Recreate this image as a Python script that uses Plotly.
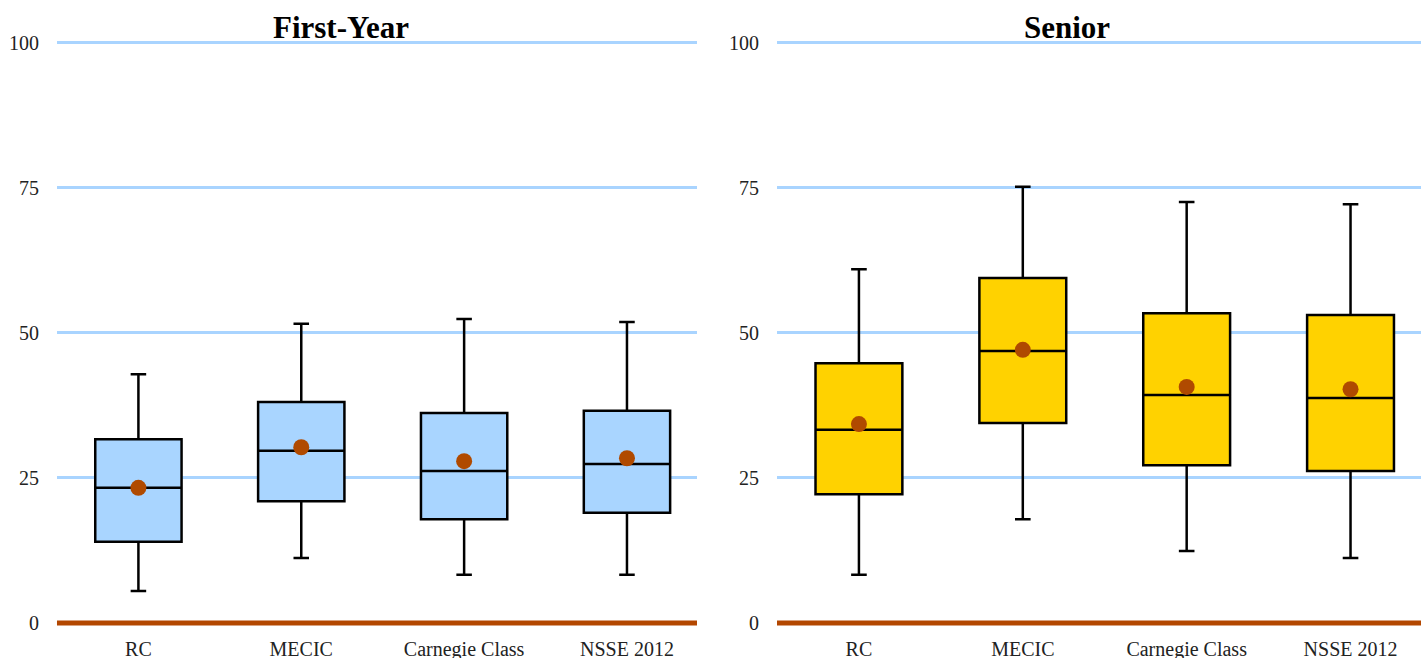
import plotly.graph_objects as go

categories = ["RC", "MECIC", "Carnegie Class", "NSSE 2012"]

fy_low = [5.5, 11.2, 8.3, 8.3]
fy_q1 = [14.0, 21.0, 17.9, 19.0]
fy_median = [23.3, 29.7, 26.2, 27.4]
fy_q3 = [31.7, 38.1, 36.2, 36.6]
fy_high = [42.9, 51.6, 52.4, 51.9]
fy_mean = [23.3, 30.3, 27.9, 28.4]

sr_low = [8.3, 17.9, 12.4, 11.2]
sr_q1 = [22.2, 34.5, 27.2, 26.2]
sr_median = [33.3, 46.9, 39.3, 38.8]
sr_q3 = [44.8, 59.5, 53.4, 53.1]
sr_high = [61.0, 75.2, 72.6, 72.2]
sr_mean = [34.3, 47.1, 40.7, 40.3]

titles = ["First-Year", "Senior"]
y_ticks = [0, 25, 50, 75, 100]

FONT = "Liberation Serif, Times New Roman, serif"
MEAN_COLOR = "#B04A00"

fig = go.Figure()

groups = [
    (fy_low, fy_q1, fy_median, fy_q3, fy_high, fy_mean, "#A9D5FF", "x", "y"),
    (sr_low, sr_q1, sr_median, sr_q3, sr_high, sr_mean, "#FFD200", "x2", "y2"),
]

for low, q1, med, q3, high, mean, fill, xa, ya in groups:
    fig.add_trace(go.Box(
        x=categories, q1=q1, median=med, q3=q3, lowerfence=low, upperfence=high,
        fillcolor=fill, line=dict(color="black", width=2.5),
        width=0.53, whiskerwidth=0.18, boxpoints=False,
        xaxis=xa, yaxis=ya, showlegend=False, hoverinfo="skip",
    ))
    fig.add_trace(go.Scatter(
        x=categories, y=mean, mode="markers",
        marker=dict(color=MEAN_COLOR, size=16, line=dict(width=0)),
        xaxis=xa, yaxis=ya, showlegend=False, hoverinfo="skip",
    ))

y_dom = [0.0444, 0.9435]
x_doms = [[0.0401, 0.4905], [0.5468, 1.0]]
title_x = [341 / 1421, 1067 / 1421]

axis_common_x = dict(
    type="category", categoryorder="array", categoryarray=categories,
    range=[-0.5, 3.43], showgrid=False, zeroline=False, showline=False,
    ticks="", tickfont=dict(family=FONT, size=20, color="#222"),
    ticklabelstandoff=6, automargin=False,
)
axis_common_y = dict(
    range=[-1, 101], tickvals=y_ticks, showgrid=True, gridcolor="#A9D4FF",
    gridwidth=2.5, zeroline=False, showline=False, ticks="",
    tickfont=dict(family=FONT, size=20, color="#222"), ticklabelstandoff=17,
    domain=y_dom, automargin=False,
)

fig.update_layout(
    width=1421, height=658,
    margin=dict(l=0, r=0, t=0, b=0),
    plot_bgcolor="white", paper_bgcolor="white",
    xaxis=dict(domain=x_doms[0], anchor="y", **axis_common_x),
    xaxis2=dict(domain=x_doms[1], anchor="y2", **axis_common_x),
    yaxis=dict(anchor="x", **axis_common_y),
    yaxis2=dict(anchor="x2", **axis_common_y),
)

for xa in ["x", "x2"]:
    fig.add_shape(type="line", xref=f"{xa} domain", yref=xa.replace("x", "y"),
                  x0=0, x1=1, y0=0, y1=0,
                  line=dict(color="#B34700", width=5), layer="above")

for i, t in enumerate(titles):
    fig.add_annotation(text=f"<b>{t}</b>", x=title_x[i], y=1 - 27 / 658,
                       xref="paper", yref="paper",
                       showarrow=False, font=dict(family=FONT, size=31, color="black"),
                       xanchor="center", yanchor="middle")

fig.write_html(
    "out.html",
    config={"displayModeBar": False},
    post_script="document.body.style.margin='0';document.body.style.overflow='hidden';",
)
